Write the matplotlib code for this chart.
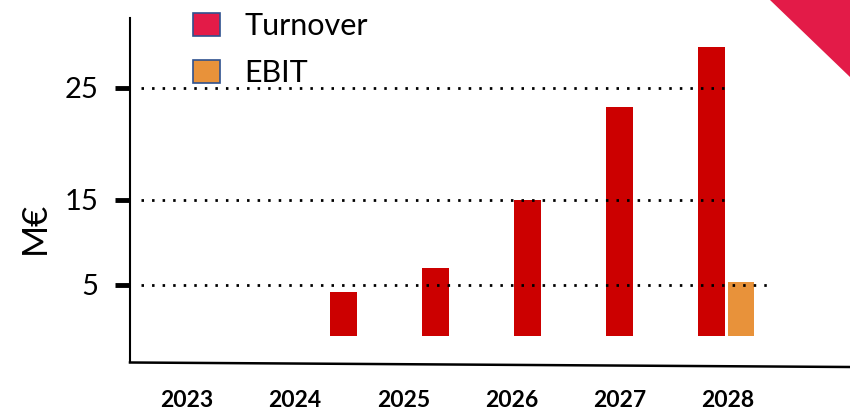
import numpy as np
import matplotlib
matplotlib.use("Agg")
import matplotlib.pyplot as plt
from matplotlib.patches import Patch, Polygon
from matplotlib.lines import Line2D

plt.rcParams["font.family"] = ["Lato", "DejaVu Sans"]

# data (M€)
years = ["2023", "2024", "2025", "2026", "2027", "2028"]
turnover = [0.0, 4.3, 7.0, 15.0, 23.3, 28.7]
ebit = [None, None, None, None, None, 5.4]
y_ticks = [5, 15, 25]

# the hand-drawn axis is not evenly spaced: map values -> pixel heights
SCALE_VAL = [-10, 0, 5, 15, 25, 40]
SCALE_PX = [-102, 0, 51, 136, 248, 416]


def fwd(v):
    return np.interp(v, SCALE_VAL, SCALE_PX)


def inv(p):
    return np.interp(p, SCALE_PX, SCALE_VAL)


W, H = 850, 412
fig = plt.figure(figsize=(W / 100, H / 100), dpi=100)
ax = fig.add_axes([130 / W, 1 - 362 / H, 720 / W, 344 / H])
ax.set_yscale("function", functions=(fwd, inv))

x = np.arange(len(years))
bar_w = 0.29
ax.bar(x, turnover, width=bar_w, color="#CC0000", zorder=2)
ebit_x = [xi + 0.32 for xi, v in zip(x, ebit) if v is not None]
ebit_v = [v for v in ebit if v is not None]
ax.bar(ebit_x, ebit_v, width=bar_w, color="#E8923A", zorder=2)

ax.set_xlim(-1.32, 6.505)
ax.set_ylim(-2.55, 31.25)

# dotted guide lines, drawn over the bars
grid_ends = {25: 5.15, 15: 5.17, 5: 5.65}
for val in y_ticks:
    ax.hlines(val, -1.2, grid_ends[val], colors="black", linewidth=2,
              linestyles=(0, (0.9, 2.9)), zorder=3)

ax.set_yticks(y_ticks, [str(t) for t in y_ticks])
ax.tick_params(axis="y", direction="out", length=11, width=3.5, pad=12,
               labelsize=21)
label_pos = -0.70 + 1.175 * np.arange(len(years))
ax.set_xticks(label_pos, years)
ax.tick_params(axis="x", length=0, pad=20, labelsize=16.5)
for lbl in ax.get_xticklabels():
    lbl.set_fontweight("bold")

for side in ["top", "right", "bottom"]:
    ax.spines[side].set_visible(False)
ax.spines["left"].set_linewidth(1.5)

# slanted baseline as on the slide
fig.add_artist(Line2D([130 / W, 1.0], [1 - 362.5 / H, 1 - 367 / H],
                      color="black", linewidth=1.8))

fig.text(35 / W, 1 - 228 / H, "M€", rotation=90, ha="center", va="center",
         fontsize=25)

handles = [Patch(facecolor="#E31B48", edgecolor="#2F528F", linewidth=1.2,
                 label="Turnover"),
           Patch(facecolor="#E8923A", edgecolor="#2F528F", linewidth=1.2,
                 label="EBIT")]
fig.legend(handles=handles, loc="upper left",
           bbox_to_anchor=(193 / W, 1 - 12 / H), frameon=False, fontsize=22,
           handlelength=0.88, handleheight=0.78, handletextpad=0.8,
           labelspacing=0.62, borderpad=0, borderaxespad=0)

fig.add_artist(Polygon([[770 / W, 1.0], [1.0, 1.0], [1.0, 1 - 77 / H]],
                       closed=True, facecolor="#E31B48", edgecolor="none",
                       transform=fig.transFigure))

fig.savefig("out.png", dpi=100)
